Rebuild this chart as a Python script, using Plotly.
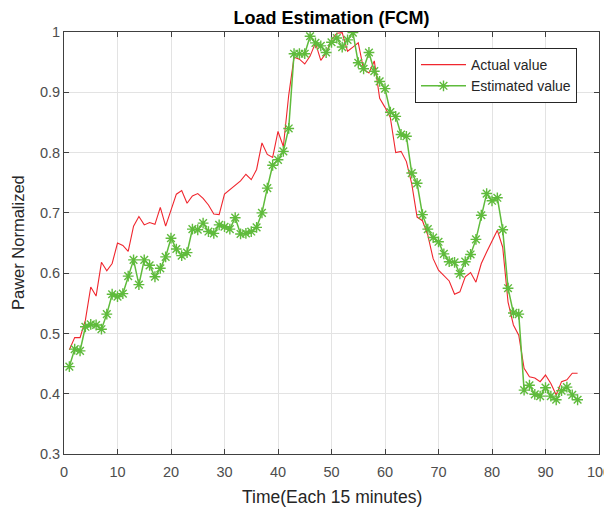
import plotly.graph_objects as go

time_idx = list(range(1, 97))

actual_value = [
    0.473, 0.493, 0.493, 0.522, 0.577, 0.562, 0.618, 0.604, 0.616, 0.650,
    0.646, 0.636, 0.678, 0.694, 0.680, 0.684, 0.681, 0.709, 0.678, 0.704,
    0.731, 0.737, 0.716, 0.728, 0.732, 0.724, 0.713, 0.698, 0.697, 0.731,
    0.738, 0.745, 0.753, 0.764, 0.755, 0.772, 0.816, 0.797, 0.792, 0.835,
    0.810, 0.895, 0.958, 0.955, 0.947, 0.960, 0.982, 0.953, 0.965, 0.987,
    0.998, 0.999, 0.968, 0.975, 0.982, 0.938, 0.932, 0.952, 0.890, 0.875,
    0.858, 0.800, 0.802, 0.785, 0.748, 0.693, 0.687, 0.663, 0.624, 0.605,
    0.596, 0.587, 0.565, 0.569, 0.594, 0.601, 0.585, 0.616, 0.635, 0.652,
    0.671, 0.643, 0.552, 0.514, 0.497, 0.442, 0.428, 0.426, 0.420, 0.431,
    0.417, 0.398, 0.420, 0.423, 0.434, 0.434,
]

estimated_value = [
    0.445, 0.474, 0.471, 0.511, 0.515, 0.514, 0.507, 0.532, 0.565, 0.561,
    0.566, 0.595, 0.622, 0.581, 0.622, 0.613, 0.594, 0.608, 0.627, 0.658,
    0.640, 0.629, 0.634, 0.673, 0.672, 0.683, 0.669, 0.666, 0.680, 0.677,
    0.673, 0.692, 0.665, 0.666, 0.669, 0.676, 0.700, 0.741, 0.779, 0.788,
    0.802, 0.840, 0.964, 0.964, 0.964, 0.993, 0.982, 0.977, 0.966, 0.983,
    0.990, 0.975, 0.987, 0.999, 0.949, 0.939, 0.966, 0.935, 0.918, 0.906,
    0.867, 0.860, 0.830, 0.827, 0.766, 0.749, 0.697, 0.673, 0.659, 0.652,
    0.632, 0.619, 0.618, 0.599, 0.619, 0.631, 0.656, 0.696, 0.732, 0.720,
    0.725, 0.672, 0.575, 0.534, 0.532, 0.406, 0.414, 0.399, 0.396, 0.410,
    0.396, 0.390, 0.405, 0.411, 0.398, 0.390,
]

x_ticks = [0, 10, 20, 30, 40, 50, 60, 70, 80, 90, 100]
y_ticks = [0.3, 0.4, 0.5, 0.6, 0.7, 0.8, 0.9, 1.0]
y_tick_labels = ["0.3", "0.4", "0.5", "0.6", "0.7", "0.8", "0.9", "1"]

RED = "#f0262e"
GREEN = "#5fbb3c"
FONT = "Liberation Sans, Arial, Helvetica, sans-serif"

# page has an 8px body margin; the figure is sized to fill the rest of the window
OFF = 8
W, H = 612 - OFF, 512 - OFF
L, R, T, B = 64 - OFF, 13, 32 - OFF, 58
PW, PH = W - L - R, H - T - B

fig = go.Figure()
fig.add_trace(go.Scatter(
    x=time_idx, y=actual_value, mode="lines", name="Actual value",
    line=dict(color=RED, width=1.1),
))
fig.add_trace(go.Scatter(
    x=time_idx, y=estimated_value, mode="lines+markers", name="Estimated value",
    line=dict(color=GREEN, width=1.5),
    marker=dict(symbol="asterisk-open", size=9, color=GREEN,
                line=dict(color=GREEN, width=1.4)),
))

axis_common = dict(
    showgrid=True, gridcolor="#e3e3e3", gridwidth=1,
    showline=True, linecolor="#404040", linewidth=1, mirror="ticks",
    ticks="inside", ticklen=5, tickcolor="#404040",
    tickfont=dict(family=FONT, size=14.5, color="#4d4d4d"),
    zeroline=False, automargin=False,
)

fig.update_layout(
    width=W, height=H,
    margin=dict(l=L, r=R, t=T, b=B),
    paper_bgcolor="white", plot_bgcolor="white",
    title=dict(text="<b>Load Estimation (FCM)</b>", x=(L + W - R) / 2 / W,
               xanchor="center", y=1 - (18 - OFF) / H, yanchor="middle",
               font=dict(family=FONT, size=18, color="#000000")),
    xaxis=dict(range=[0, 100], tickvals=x_ticks, ticklabelstandoff=5,
               **axis_common),
    yaxis=dict(range=[0.3, 1.0], tickvals=y_ticks, ticktext=y_tick_labels,
               **axis_common),
    legend=dict(x=(415 - OFF - L) / PW, y=(H - B - (48 - OFF)) / PH,
                xanchor="left", yanchor="top",
                bgcolor="white", bordercolor="#262626", borderwidth=1,
                font=dict(family=FONT, size=14, color="#262626"),
                itemwidth=45, tracegroupgap=0),
    showlegend=True,
    annotations=[
        dict(text="Time(Each 15 minutes)", xref="paper", yref="paper",
             x=0.5, y=-((497 - OFF) - (H - B)) / PH, xanchor="center", yanchor="middle",
             showarrow=False, font=dict(family=FONT, size=17.5, color="#262626")),
        dict(text="Pawer Normalized", xref="paper", yref="paper",
             x=-(L - (18 - OFF)) / PW, y=0.5, xanchor="center", yanchor="middle",
             textangle=-90, showarrow=False,
             font=dict(family=FONT, size=16.5, color="#262626")),
    ],
)

fig.write_html("out.html")
